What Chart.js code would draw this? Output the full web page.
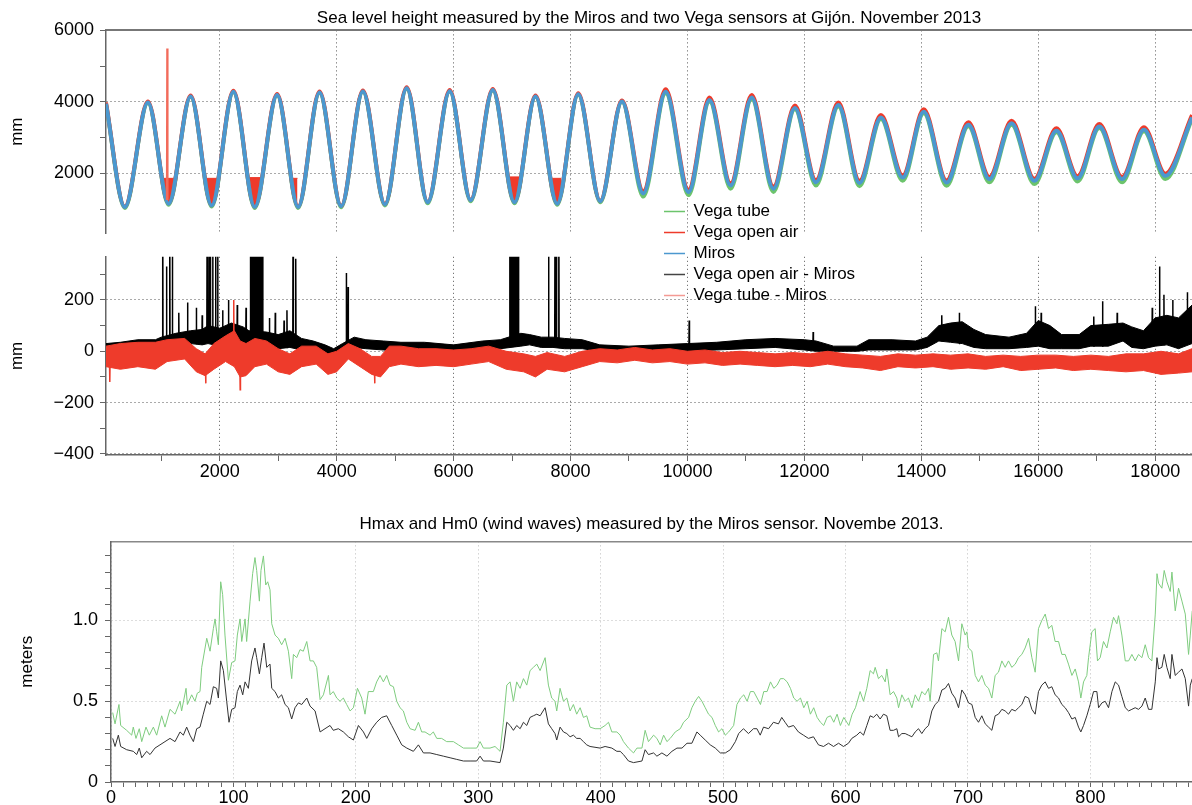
<!DOCTYPE html>
<html>
<head>
<meta charset="utf-8">
<script src="https://cdn.jsdelivr.net/npm/chart.js@4/dist/chart.umd.min.js"></script>
<style>
  html, body { margin: 0; padding: 0; background: #fff; }
  #wrap { position: relative; width: 1192px; height: 805px; overflow: hidden; }
  canvas { position: absolute; left: 0; }
  #cB { top: 240px; }
  #cA { top: 0; }
  #cC { top: 510px; }
</style>
</head>
<body>
<div id="wrap">
  <canvas id="cB" width="1192" height="250"></canvas>
  <canvas id="cA" width="1192" height="310"></canvas>
  <canvas id="cC" width="1192" height="295"></canvas>
</div>
<script>
// ---- panel 1: sea level (mm), tide highs / lows ----
const tideT = [55, 377, 772, 1126, 1503, 1862, 2234, 2599, 2982, 3341, 3707, 4078, 4449, 4826, 5198,
  5557, 5934, 6293, 6671, 7042, 7401, 7772, 8132, 8509, 8880, 9245, 9628, 10018, 10378, 10739,
  11099, 11471, 11838, 12198, 12582, 12943, 13309, 13682, 14042, 14432, 14805, 15165, 15543, 15934,
  16312, 16673, 17045, 17435, 17808, 18174, 18630];
const mirosMm = [3950, 1060, 3980, 1150, 4150, 1100, 4280, 1060, 4190, 1060, 4260, 1080, 4290, 1130, 4380,
  1190, 4300, 1250, 4330, 1190, 4150, 1150, 4210, 1220, 4010, 1440, 4280, 1480, 4050, 1660,
  4120, 1570, 3830, 1750, 3910, 1730, 3560, 1880, 3720, 1740, 3360, 1840, 3400, 1790,
  3190, 1860, 3310, 1840, 3220, 1930, 3560];
const vegaAirMm = [3980, 1070, 4010, 1160, 4180, 1110, 4310, 1070, 4220, 1070, 4290, 1090, 4320, 1140, 4410,
  1200, 4330, 1260, 4360, 1200, 4180, 1160, 4240, 1230, 4040, 1500, 4350, 1540, 4120, 1720,
  4190, 1630, 3900, 1810, 3980, 1790, 3630, 1940, 3790, 1800, 3430, 1900, 3470, 1850,
  3260, 1920, 3380, 1900, 3290, 1990, 3630];
const vegaTubeMm = [3940, 1030, 3970, 1120, 4140, 1070, 4270, 1030, 4180, 1030, 4250, 1050, 4280, 1100, 4370,
  1160, 4290, 1220, 4320, 1160, 4140, 1120, 4200, 1190, 4000, 1350, 4240, 1390, 4010, 1570,
  4080, 1480, 3790, 1660, 3870, 1640, 3520, 1790, 3680, 1650, 3320, 1750, 3360, 1700,
  3150, 1770, 3270, 1750, 3180, 1840, 3520];
// open-air sensor drop-outs at low tide (start, end, level)
const dropT0 = [1036, 1754, 2509, 3228, 6940, 7670];
const dropT1 = [1234, 1982, 2749, 3330, 7132, 7838];
const dropMm = [1860, 1860, 1880, 1860, 1900, 1860];
const airSpikeT = [1096, 1102, 1108];
const airSpikeMm = [1250, 5490, 1250];

// ---- panel 2: differences (mm), noisy bands as low / high envelopes ----
const blackT = [55, 300, 600, 900, 1000, 1250, 1500, 1700, 1800, 2000, 2200, 2400, 2500, 2800, 3000,
  3200, 3400, 3600, 3800, 3950, 4100, 4300, 4500, 4800, 5100, 5500, 6000, 6500, 6800, 7150,
  7300, 7500, 7700, 7900, 8200, 8500, 9000, 9500, 10000, 10500, 11000, 11500, 12000, 12200, 12500,
  12900, 13100, 13500, 13900, 14100, 14300, 14500, 14700, 14900, 15100, 15500, 15800, 16000, 16200, 16400,
  16700, 16900, 17200, 17450, 17600, 17800, 18000, 18200, 18400, 18630];
const blackLo = [-5, 5, 10, 15, 20, 25, 30, 25, 30, 20, 10, 15, 20, 15, 10,
  15, 5, 0, -15, -20, -5, 15, 10, 5, 0, 5, -5, 5, 10, 20,
  25, 15, 15, 10, 10, 0, -5, 0, 0, 5, 10, 15, 5, 0, 0,
  0, 5, 5, 5, 15, 40, 35, 30, 15, 10, 10, 15, 20, 10, 10,
  10, 20, 20, 40, 15, 10, 20, 25, 10, 30];
const blackHi = [30, 35, 45, 45, 55, 70, 80, 85, 100, 90, 110, 95, 80, 75, 65,
  80, 50, 40, 25, 10, 30, 55, 45, 40, 35, 35, 25, 40, 45, 70,
  65, 55, 55, 50, 45, 25, 20, 25, 30, 35, 45, 50, 45, 40, 20,
  20, 45, 45, 40, 55, 100, 110, 115, 85, 65, 55, 70, 120, 100, 65,
  65, 100, 105, 110, 95, 80, 130, 140, 130, 180];
const blackSpikeT = [1025, 1090, 1145, 1190, 1300, 1450, 1600, 1700, 1785, 1820, 1840, 1880, 1930, 1965,
  2050, 2150, 2300, 2450, 2525, 2545, 2570, 2590, 2610, 2635, 2660, 2680, 2700, 2720, 2735,
  2850, 2950, 3100, 3150, 3255, 3300, 4165, 4195, 6960, 6980, 7000, 7030, 7050, 7070, 7090, 7110,
  7625, 7735, 7760, 7800, 10030, 12150, 14350, 14650, 15950, 16050, 16950, 17100, 17350, 17950,
  18075, 18150, 18300, 18550];
const blackSpikeBase = [40, 40, 40, 60, 25, 30, 30, 25, 80, 80, 80, 80, 80, 80,
  20, 10, 15, 20, 60, 60, 60, 60, 60, 60, 60, 60, 60, 60, 60,
  15, 10, 15, 15, 50, 50, 20, 20, 20, 20, 20, 20, 20, 20, 20, 30,
  20, 20, 20, 20, 10, 10, 40, 30, 20, 20, 20, 20, 40, 20,
  60, 25, 20, 30];
const blackSpikeTop = [600, 330, 600, 600, 150, 190, 170, 140, 600, 600, 600, 600, 600, 600,
  160, 200, 180, 170, 600, 600, 600, 600, 600, 600, 600, 600, 600, 600, 600,
  130, 150, 120, 160, 600, 360, 305, 250, 600, 600, 600, 600, 600, 600, 600, 600,
  600, 600, 600, 600, 120, 75, 140, 150, 175, 150, 135, 195, 150, 170,
  330, 220, 200, 230];
const redT = [55, 300, 600, 900, 1100, 1400, 1600, 1750, 1900, 2100, 2250, 2350, 2450, 2600, 2800,
  3000, 3200, 3400, 3650, 3850, 4000, 4200, 4400, 4600, 4750, 4900, 5100, 5400, 5700, 6000,
  6300, 6600, 6900, 7200, 7400, 7600, 7900, 8200, 8500, 8800, 9100, 9400, 9700, 10000, 10300,
  10600, 10900, 11200, 11500, 11800, 12100, 12400, 12700, 13000, 13300, 13600, 13900, 14200, 14500, 14800,
  15100, 15400, 15700, 16000, 16300, 16600, 16900, 17200, 17500, 17800, 18100, 18400, 18630];
const redLo = [-60, -70, -60, -70, -40, -30, -80, -95, -70, -40, -60, -100, -95, -60, -50,
  -80, -90, -60, -50, -90, -80, -30, -60, -90, -100, -60, -50, -60, -55, -60,
  -50, -40, -70, -80, -100, -70, -80, -60, -40, -45, -35, -45, -40, -50, -45,
  -55, -50, -55, -60, -55, -60, -50, -60, -65, -75, -60, -65, -60, -70, -65,
  -70, -60, -75, -70, -65, -75, -70, -75, -80, -75, -90, -85, -80];
const redHi = [20, 30, 35, 35, 45, 50, 10, -10, 30, 60, 80, 40, 30, 50, 40,
  10, -10, 20, 20, -10, 0, 30, 10, -20, -20, 20, 20, 10, 10, 5,
  10, 20, 0, -10, -20, -5, -20, 0, 10, 5, 15, 5, 10, 0, 5,
  -5, 0, -5, -10, -5, -10, 0, -10, -15, -20, -10, -15, -10, -15, -10,
  -20, -15, -20, -15, -15, -20, -15, -20, -10, -10, 0, -10, 10];
const redSpikeT = [120, 1760, 2240, 2350, 4650];
const redSpikeBase = [-40, -60, -20, -60, -60];
const redSpikeTip = [-120, -125, 200, -150, -125];

// ---- panel 3: wave heights (m) ----
const hmaxT = [1.4, 3.3, 6.5, 7.9, 12.8, 16.9, 18.2, 20.4, 23.1, 25.1,
  28.6, 31.3, 34.6, 37.3, 41.4, 44.1, 48.2, 52.3, 56.4, 57.7,
  61.3, 62.4, 65.9, 68.6, 70.5, 72.7, 74.1, 78.2, 80.9, 83.6,
  85.0, 86.3, 87.7, 89.6, 91.2, 93.1, 95.9, 98.6, 101.3, 103.2,
  105.4, 106.8, 109.5, 110.8, 113.6, 115.7, 117.6, 119.0, 121.2, 122.5,
  124.5, 126.4, 128.0, 129.9, 131.3, 134.0, 136.7, 139.4, 142.2, 144.9,
  147.6, 149.0, 151.7, 154.4, 157.1, 159.9, 162.6, 165.3, 168.0, 170.8,
  173.5, 177.6, 178.9, 181.6, 184.4, 187.1, 189.8, 192.5, 195.3, 198.0,
  201.3, 204.8, 207.5, 210.2, 214.3, 217.0, 219.8, 222.5, 225.2, 227.9,
  230.7, 233.4, 236.1, 238.8, 241.6, 244.3, 248.4, 251.1, 253.8, 256.5,
  260.6, 263.3, 266.1, 270.1, 274.2, 279.7, 283.8, 287.9, 293.3, 298.7,
  301.5, 304.2, 309.6, 313.7, 317.8, 320.5, 323.3, 326.0, 328.7, 331.4,
  334.2, 336.9, 339.6, 342.3, 345.0, 347.8, 350.5, 354.6, 357.3, 360.0,
  362.7, 364.1, 366.8, 369.6, 372.3, 375.0, 377.7, 380.4, 383.2, 385.9,
  388.6, 391.3, 395.4, 399.5, 403.6, 406.4, 409.1, 413.2, 415.9, 418.6,
  422.7, 426.8, 429.6, 433.7, 436.3, 439.0, 443.2, 445.9, 448.6, 451.4,
  454.1, 456.8, 460.9, 465.0, 467.7, 471.8, 474.5, 477.2, 480.0, 482.7,
  485.4, 488.1, 490.9, 493.6, 496.3, 499.0, 501.8, 504.5, 508.6, 511.3,
  514.2, 516.9, 519.6, 522.3, 525.0, 527.8, 530.5, 533.2, 535.9, 538.7,
  541.4, 544.1, 546.8, 549.5, 552.3, 555.0, 557.7, 560.4, 563.2, 565.9,
  568.6, 571.3, 574.0, 576.8, 579.5, 582.2, 584.9, 587.7, 590.4, 593.1,
  595.8, 598.6, 602.7, 605.4, 608.1, 611.9, 614.7, 617.4, 620.1, 622.8,
  624.2, 626.9, 629.6, 632.4, 633.7, 636.4, 639.2, 641.9, 643.3, 646.0,
  648.7, 651.4, 654.2, 656.9, 659.6, 662.3, 665.0, 667.8, 669.1, 671.9,
  674.6, 675.9, 678.7, 681.4, 684.1, 686.8, 689.5, 692.3, 695.0, 697.7,
  699.1, 700.4, 703.2, 705.9, 708.6, 711.3, 714.1, 716.8, 719.5, 722.2,
  724.9, 727.7, 730.4, 733.1, 735.8, 738.6, 741.3, 744.0, 746.7, 749.5,
  752.2, 754.9, 757.6, 760.3, 763.1, 765.8, 768.5, 771.2, 774.0, 776.7,
  779.4, 782.1, 784.9, 787.6, 790.3, 792.2, 794.4, 797.1, 798.5, 801.2,
  803.9, 805.8, 808.0, 810.7, 813.5, 816.2, 818.9, 821.6, 823.0, 825.7,
  828.5, 831.2, 833.9, 836.6, 839.3, 842.1, 844.8, 847.5, 850.2, 853.0,
  854.4, 855.7, 858.4, 860.3, 862.5, 865.2, 866.6, 869.3, 872.0, 874.8,
  877.5, 880.2, 881.6, 883.2];
const hmaxM = [.43, .36, .48, .35, .32, .29, .34, .27, .33, .25,
  .34, .29, .34, .29, .41, .34, .45, .42, .50, .44,
  .58, .48, .54, .50, .55, .56, .71, .89, .81, .95,
  1.01, .93, .85, 1.24, 1.16, .91, .63, .74, .75, .91,
  1.01, .87, 1.01, .87, 1.12, 1.29, 1.39, 1.31, 1.12, 1.31,
  1.40, 1.22, 1.24, 1.19, .98, .91, .89, .85, .89, .81,
  .64, .79, .77, .82, .81, .87, .75, .75, .71, .51,
  .54, .66, .54, .56, .52, .50, .52, .48, .44, .46,
  .58, .52, .42, .56, .56, .62, .66, .62, .66, .60,
  .59, .50, .46, .44, .37, .33, .32, .37, .31, .31,
  .29, .31, .27, .27, .25, .25, .23, .21, .21, .21,
  .25, .21, .21, .22, .19, .37, .60, .62, .50, .62,
  .58, .64, .60, .69, .71, .73, .69, .77, .60, .52,
  .50, .44, .58, .50, .52, .44, .48, .42, .46, .40,
  .41, .34, .33, .33, .35, .37, .31, .31, .29, .25,
  .21, .18, .21, .21, .32, .25, .29, .27, .23, .29,
  .25, .27, .31, .33, .37, .40, .46, .50, .53, .50,
  .46, .42, .40, .35, .31, .33, .29, .31, .35, .48,
  .52, .54, .50, .56, .56, .52, .48, .56, .56, .62,
  .58, .60, .64, .64, .62, .58, .52, .50, .52, .46,
  .50, .42, .46, .40, .37, .35, .40, .41, .37, .42,
  .35, .40, .35, .42, .46, .56, .50, .58, .69, .67,
  .71, .64, .66, .62, .70, .54, .56, .52, .46, .54,
  .50, .52, .46, .54, .50, .56, .54, .58, .50, .79,
  .80, .75, .95, .93, 1.02, .91, .87, .75, .98, .91,
  .93, .83, .81, .66, .62, .66, .60, .58, .52, .66,
  .68, .75, .71, .75, .71, .73, .77, .79, .83, .89,
  .77, .68, .95, 1.00, 1.04, .95, .97, .87, .87, .79,
  .79, .73, .66, .70, .62, .52, .62, .66, .77, .93,
  .95, .75, .77, .87, .83, .93, 1.02, .98, 1.03, .91,
  .75, .75, .79, .75, .79, .77, .85, .77, .75, 1.04,
  1.29, 1.23, 1.20, 1.31, 1.24, 1.18, 1.30, 1.06, 1.20, 1.12,
  1.04, .79, .91, 1.06];
const hm0T = [1.4, 3.3, 6.0, 7.9, 12.8, 18.2, 21.0, 23.1, 25.1, 29.1,
  31.9, 35.9, 40.0, 44.1, 48.2, 52.3, 56.4, 59.1, 61.8, 64.5,
  67.3, 70.0, 72.7, 75.4, 78.2, 80.9, 83.6, 86.3, 87.7, 89.6,
  91.8, 94.5, 96.4, 98.6, 101.3, 103.2, 105.4, 107.6, 109.5, 112.2,
  114.9, 117.6, 119.0, 121.2, 123.1, 125.0, 127.2, 129.9, 131.3, 134.0,
  136.7, 139.4, 142.2, 144.9, 147.6, 150.3, 153.1, 155.8, 159.9, 162.6,
  166.7, 170.8, 174.8, 178.9, 181.6, 185.7, 189.8, 193.9, 198.0, 202.1,
  206.2, 208.9, 213.0, 217.0, 221.1, 225.2, 229.3, 233.4, 237.5, 241.6,
  247.0, 251.1, 255.2, 260.6, 266.1, 271.5, 277.0, 282.4, 287.9, 293.3,
  298.7, 301.5, 304.2, 309.6, 317.8, 320.5, 323.3, 326.0, 328.7, 331.4,
  334.2, 336.9, 339.6, 342.3, 345.0, 347.8, 350.5, 354.6, 357.3, 360.0,
  362.7, 364.1, 366.8, 369.6, 372.3, 375.0, 377.7, 380.4, 383.2, 385.9,
  388.6, 391.3, 399.5, 403.6, 409.1, 413.2, 415.9, 418.6, 422.7, 426.8,
  433.7, 436.3, 439.0, 443.2, 445.9, 450.0, 454.1, 458.2, 462.3, 466.4,
  470.5, 474.5, 478.6, 481.3, 485.4, 489.5, 493.6, 497.7, 501.8, 505.9,
  510.0, 512.7, 516.6, 520.7, 524.8, 527.6, 530.3, 533.0, 537.1, 541.1,
  545.2, 547.9, 550.6, 553.4, 557.5, 561.5, 565.6, 569.7, 573.8, 577.9,
  582.0, 586.1, 590.2, 594.3, 598.3, 602.4, 605.1, 609.2, 611.9, 614.7,
  617.4, 620.1, 622.8, 625.5, 628.3, 631.0, 633.7, 636.4, 639.2, 641.9,
  643.3, 646.0, 648.7, 651.4, 654.2, 656.9, 659.6, 662.3, 665.0, 667.8,
  670.5, 673.2, 675.9, 678.7, 681.4, 684.1, 686.8, 689.5, 692.3, 695.0,
  697.7, 700.4, 703.2, 705.9, 708.6, 711.3, 714.1, 716.8, 719.5, 722.2,
  724.9, 727.7, 730.4, 733.1, 735.8, 738.6, 741.3, 744.0, 746.7, 749.5,
  752.2, 754.9, 757.6, 760.3, 763.1, 765.8, 768.5, 771.2, 774.0, 776.7,
  779.4, 782.1, 784.9, 787.6, 790.3, 792.2, 794.4, 797.1, 799.8, 802.6,
  805.3, 806.7, 809.4, 812.1, 814.8, 817.6, 820.3, 823.0, 825.7, 828.5,
  831.2, 833.9, 836.6, 839.3, 842.1, 844.8, 847.5, 850.2, 853.0, 854.4,
  855.7, 858.4, 860.3, 862.5, 865.2, 866.6, 869.3, 872.0, 874.8, 877.5,
  880.2, 881.6, 883.2];
const hm0M = [.27, .22, .29, .22, .20, .19, .17, .21, .15, .19,
  .17, .21, .23, .25, .27, .25, .31, .29, .34, .29,
  .25, .33, .34, .42, .50, .48, .59, .58, .52, .75,
  .69, .50, .37, .45, .46, .56, .60, .54, .62, .58,
  .75, .83, .77, .67, .77, .86, .71, .73, .58, .56,
  .52, .54, .48, .46, .39, .46, .49, .48, .52, .47,
  .44, .31, .33, .35, .32, .33, .31, .28, .26, .35,
  .31, .27, .33, .37, .40, .41, .35, .29, .23, .21,
  .19, .23, .18, .18, .17, .16, .15, .14, .13, .13,
  .13, .16, .13, .13, .12, .21, .37, .35, .32, .35,
  .33, .37, .35, .40, .41, .42, .41, .46, .36, .33,
  .30, .26, .34, .31, .30, .28, .29, .27, .27, .25,
  .23, .22, .21, .22, .21, .19, .19, .17, .13, .12,
  .13, .20, .17, .18, .16, .18, .16, .19, .21, .21,
  .24, .24, .31, .29, .26, .23, .21, .18, .18, .20,
  .25, .30, .33, .30, .33, .33, .29, .34, .33, .37,
  .36, .40, .37, .34, .35, .31, .29, .27, .28, .23,
  .22, .24, .22, .24, .22, .24, .27, .29, .31, .29,
  .35, .41, .40, .42, .39, .42, .41, .32, .32, .33,
  .28, .30, .30, .29, .28, .31, .33, .30, .33, .35,
  .44, .48, .50, .57, .58, .61, .55, .52, .46, .57,
  .54, .49, .48, .40, .37, .41, .36, .34, .32, .41,
  .42, .45, .44, .42, .45, .44, .46, .48, .53, .52,
  .45, .42, .56, .60, .62, .58, .59, .54, .52, .48,
  .46, .43, .39, .40, .34, .31, .35, .41, .48, .56,
  .56, .46, .49, .50, .46, .56, .62, .60, .53, .46,
  .44, .45, .46, .45, .47, .52, .45, .45, .62, .77,
  .70, .71, .79, .71, .64, .79, .66, .68, .70, .64,
  .47, .60, .64];

// ---- ticks ----
const xTicksAB = [1000, 2000, 3000, 4000, 5000, 6000, 7000, 8000, 9000, 10000, 11000, 12000,
  13000, 14000, 15000, 16000, 17000, 18000];
const xLabelsAB = [2000, 4000, 6000, 8000, 10000, 12000, 14000, 16000, 18000];
const yTicksA = [1000, 2000, 3000, 4000, 5000, 6000];
const yLabelsA = [2000, 4000, 6000];
const yTicksB = [-400, -300, -200, -100, 0, 100, 200, 300];
const yLabelsB = [-400, -200, 0, 200];
const xLabelsC = [0, 100, 200, 300, 400, 500, 600, 700, 800];
const yTicksC = [0, 0.1, 0.2, 0.3, 0.4, 0.5, 0.6, 0.7, 0.8, 0.9, 1.0, 1.1, 1.2, 1.3, 1.4];
const yLabelsC = [0, 0.5, 1.0];

const BLUE = '#4b98cf', RED = '#ee3b2b', GREEN = '#6cc46c';
const GRID = '#555', GRID_C = '#bbb', AXIS = '#666';
const NONE = 'rgba(0,0,0,0)';

Chart.defaults.font.family = "'Liberation Sans', Arial, Helvetica, sans-serif";
Chart.defaults.font.size = 18;
Chart.defaults.color = '#000';
Chart.defaults.animation = false;
Chart.defaults.elements.point.radius = 0;
Chart.defaults.elements.line.borderWidth = 1;

const pts = (xs, ys) => xs.map((x, i) => ({x: x, y: ys[i]}));
const has = (list, v) => list.some(l => Math.abs(l - v) < 1e-6);
const minus = v => v < 0 ? '\u2212' + Math.abs(v) : String(v);
// each spike: base -> tip -> base around its time, then a gap
const spikes = (ts, base, tip) => ts.flatMap((t, i) =>
  [{x: t - 5, y: base[i]}, {x: t, y: tip[i]}, {x: t + 5, y: base[i]}, {x: t + 6, y: null}]);

function setTicks(vals) {
  return s => { s.ticks = vals.map(v => ({value: v})); };
}
function gridColor(labels, col) {
  return c => (c.tick && has(labels, c.tick.value)) ? col : NONE;
}

const dropPts = [];
dropT0.forEach((t, i) => {
  dropPts.push({x: t, y: dropMm[i]}, {x: dropT1[i], y: dropMm[i]}, {x: dropT1[i] + 1, y: null});
});

const placeLegend = {
  id: 'placeLegend',
  afterLayout(chart) {
    const lg = chart.legend;
    lg.left = 660; lg.top = 199;
    lg.right = lg.left + lg.width; lg.bottom = lg.top + lg.height;
  }
};

// panel 1
new Chart(document.getElementById('cA'), {
  type: 'line',
  data: {
    datasets: [
      {label: 'Vega tube', data: pts(tideT, vegaTubeMm), borderColor: GREEN, borderWidth: 4,
        cubicInterpolationMode: 'monotone', order: 3},
      {label: 'Vega open air', data: pts(tideT, vegaAirMm), borderColor: RED, borderWidth: 4,
        cubicInterpolationMode: 'monotone', order: 2},
      {label: 'Miros', data: pts(tideT, mirosMm), borderColor: BLUE, borderWidth: 4,
        cubicInterpolationMode: 'monotone', order: 1},
      {label: 'Vega open air - Miros', data: [], borderColor: '#444', order: 6},
      {label: 'Vega tube - Miros', data: [], borderColor: '#f49a94', order: 7},
      {data: dropPts, borderColor: RED, borderWidth: 1, backgroundColor: RED,
        fill: {target: 2, above: RED, below: NONE}, order: 4},
      {data: pts(airSpikeT, airSpikeMm), borderColor: '#f26b5b', borderWidth: 2, order: 0}
    ]
  },
  options: {
    responsive: false,
    layout: {padding: {left: 0, right: 0, top: 0, bottom: 77}},
    plugins: {
      title: {display: true, fullSize: false,
        text: 'Sea level height measured by the Miros and two Vega sensors at Gij\u00f3n. November 2013',
        font: {size: 17, weight: 'normal'}, padding: {top: 8, bottom: 2}},
      legend: {display: true, position: 'chartArea', align: 'start',
        labels: {usePointStyle: true, pointStyle: 'line', pointStyleWidth: 21, padding: 4,
          font: {size: 17},
          filter: item => !!item.text,
          sort: (a, b) => a.datasetIndex - b.datasetIndex,
          generateLabels: chart => Chart.defaults.plugins.legend.labels.generateLabels(chart)
            .map(l => { l.lineWidth = 1.5; return l; })}},
      tooltip: {enabled: false}
    },
    scales: {
      x: {type: 'linear', min: 55, max: 18630, afterBuildTicks: setTicks(xTicksAB),
        ticks: {display: false},
        grid: {color: gridColor(xLabelsAB, GRID), drawTicks: false},
        border: {display: false, dash: [1, 3]},
        afterFit: s => { s.height = 0; }},
      xTop: {type: 'linear', position: 'top', min: 55, max: 18630,
        ticks: {display: false}, grid: {display: false},
        border: {display: true, color: '#777', width: 2},
        afterFit: s => { s.height = 0; }},
      y: {min: 330, max: 6000, afterBuildTicks: setTicks(yTicksA),
        ticks: {autoSkip: false, padding: 6, callback: v => has(yLabelsA, v) ? String(v) : ''},
        grid: {color: gridColor(yLabelsA, GRID), tickColor: AXIS, tickLength: 6},
        border: {color: AXIS, width: 1.5, dash: [1, 3]},
        title: {display: true, text: 'mm', font: {size: 17}, padding: {top: 7, bottom: 0}},
        afterFit: s => { s.width = 106; }}
    }
  },
  plugins: [placeLegend]
});

// panel 2
new Chart(document.getElementById('cB'), {
  type: 'line',
  data: {
    datasets: [
      {data: pts(blackT, blackHi), borderColor: '#000', backgroundColor: '#000', fill: 1, order: 2},
      {data: pts(blackT, blackLo), borderColor: '#000', order: 2},
      {data: pts(redT, redHi), borderColor: RED, backgroundColor: RED, fill: 3, order: 1},
      {data: pts(redT, redLo), borderColor: RED, order: 1},
      {data: spikes(blackSpikeT, blackSpikeBase, blackSpikeTop), borderColor: '#000', borderWidth: 1.5, order: 2},
      {data: spikes(redSpikeT, redSpikeBase, redSpikeTip), borderColor: RED, borderWidth: 1.5, order: 1}
    ]
  },
  options: {
    responsive: false,
    layout: {padding: {left: 0, right: 0, top: 13, bottom: 0}},
    plugins: {legend: {display: false}, tooltip: {enabled: false}},
    scales: {
      x: {type: 'linear', min: 55, max: 18630, afterBuildTicks: setTicks(xTicksAB),
        ticks: {autoSkip: false, maxRotation: 0, padding: 0,
          callback: v => has(xLabelsAB, v) ? String(v) : ''},
        grid: {color: gridColor(xLabelsAB, GRID), tickColor: AXIS, tickLength: 6},
        border: {color: AXIS, width: 1.5, dash: [1, 3]},
        afterFit: s => { s.height = 35; }},
      y: {min: -404, max: 368, afterBuildTicks: setTicks(yTicksB),
        ticks: {autoSkip: false, padding: 6, callback: v => has(yLabelsB, v) ? minus(v) : ''},
        grid: {color: gridColor(yLabelsB, GRID), tickColor: AXIS, tickLength: 6},
        border: {color: AXIS, width: 1.5, dash: [1, 3]},
        title: {display: true, text: 'mm', font: {size: 17}, padding: {top: 7, bottom: 0}},
        afterFit: s => { s.width = 106; }}
    }
  }
});

// panel 3
const xTicksC = [];
for (let v = 0; v <= 880; v += 10) xTicksC.push(v);

new Chart(document.getElementById('cC'), {
  type: 'line',
  data: {
    datasets: [
      {label: 'Hmax', data: pts(hmaxT, hmaxM), borderColor: '#7fcc7f', borderWidth: 1},
      {label: 'Hm0', data: pts(hm0T, hm0M), borderColor: '#333', borderWidth: 1}
    ]
  },
  options: {
    responsive: false,
    layout: {padding: 0},
    plugins: {
      legend: {display: false},
      tooltip: {enabled: false},
      title: {display: true, fullSize: false,
        text: 'Hmax and Hm0 (wind waves) measured by the Miros sensor. Novembe 2013.',
        font: {size: 17, weight: 'normal'}, padding: {top: 4, bottom: 7}}
    },
    scales: {
      x: {type: 'linear', min: 0, max: 883, afterBuildTicks: setTicks(xTicksC),
        ticks: {autoSkip: false, maxRotation: 0, padding: 0,
          callback: v => has(xLabelsC, v) ? String(v) : ''},
        grid: {color: gridColor(xLabelsC, GRID_C), tickColor: AXIS, tickLength: 5},
        border: {color: AXIS, width: 1.5, dash: [1, 3]},
        afterFit: s => { s.height = 23; }},
      xTop: {type: 'linear', position: 'top', min: 0, max: 883,
        ticks: {display: false}, grid: {display: false},
        border: {display: true, color: '#888', width: 1.5},
        afterFit: s => { s.height = 0; }},
      y: {min: 0, max: 1.49, afterBuildTicks: setTicks(yTicksC),
        ticks: {autoSkip: false, padding: 7,
          callback: v => has(yLabelsC, v) ? (v === 0 ? '0' : v.toFixed(1)) : ''},
        grid: {color: gridColor([0.5, 1.0], GRID_C), tickColor: AXIS, tickLength: 6},
        border: {color: AXIS, width: 1.5, dash: [1, 3]},
        title: {display: true, text: 'meters', font: {size: 17}, padding: {top: 17, bottom: 0}},
        afterFit: s => { s.width = 111; }}
    }
  }
});
</script>
</body>
</html>
